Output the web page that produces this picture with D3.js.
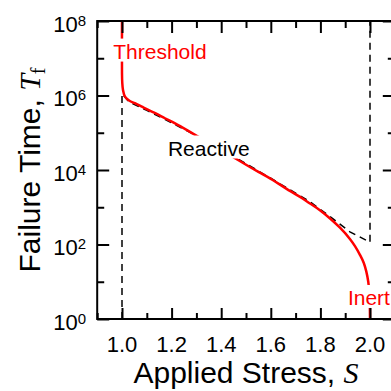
<!DOCTYPE html>
<html>
<head>
<meta charset="utf-8">
<script src="https://cdn.jsdelivr.net/npm/d3@7/dist/d3.min.js"></script>
<style>
  html, body { margin: 0; padding: 0; background: #fff; }
  svg { display: block; }
  text { font-family: "Liberation Sans", Arial, sans-serif; }
</style>
</head>
<body>
<script>
// Applied stress axis (normalised), ticks every 0.1, labels every 0.2
const stressDomain = [0.9, 2.1];
const stressMajorTicks = [1.0, 1.2, 1.4, 1.6, 1.8, 2.0];
const stressMinorTicks = [0.9, 1.1, 1.3, 1.5, 1.7, 1.9, 2.1];
const stressTickLabels = ["1.0", "1.2", "1.4", "1.6", "1.8", "2.0"];

// Failure time axis (log scale)
const timeDomain = [1, 1e8];
const timeMajorExponents = [0, 2, 4, 6, 8];
const timeMinorExponents = [1, 3, 5, 7];

// Full model: failure time vs applied stress (solid red)
const modelStress = [1.000, 1.000, 1.001, 1.004, 1.012, 1.030, 1.052, 1.080, 1.106, 1.140,
                     1.173, 1.214, 1.286, 1.350, 1.400, 1.468, 1.550, 1.600, 1.677, 1.718,
                     1.758, 1.798, 1.839, 1.879, 1.919, 1.940, 1.960, 1.975, 1.985, 1.993,
                     1.998, 2.000];
const modelTime = [1.0e8, 3.98e6, 2.24e6, 1.41e6, 9.3e5, 7.2e5, 6.2e5, 5.0e5, 4.1e5, 3.2e5,
                   2.45e5, 1.78e5, 9.5e4, 5.4e4, 3.5e4, 1.86e4, 8.9e3, 5.8e3, 2.75e3, 1.9e3,
                   1.26e3, 832, 500, 282, 141, 89, 52, 32, 19, 10,
                   4.5, 1];

// Asymptotic limits (dashed black): threshold at S = 1, reactive branch, inert at S = 2
const limitStress = [1.000, 1.000, 1.030, 1.100, 1.200, 1.300, 1.400, 1.500, 1.600, 1.700,
                     1.758, 1.839, 1.919, 2.000, 2.000];
const limitTime = [1, 1.12e6, 6.6e5, 4.0e5, 1.86e5, 8.3e4, 3.6e4, 1.48e4, 6.0e3, 2.4e3,
                   1.41e3, 560, 219, 115, 1e8];

// Regime labels, anchored in data coordinates
const regimeNames = ["Threshold", "Reactive", "Inert"];
const regimeStress = [1.153, 1.35, 1.911];
const regimeTime = [9.8e6, 2.45e4, 2.38];
const regimeColors = ["#ff0000", "#000000", "#ff0000"];
const regimeAnchors = ["middle", "middle", "start"];

const W = 391, H = 391;
const plot = { left: 97.2, right: 394.8, top: 21, bottom: 319 };

const svg = d3.select("body").append("svg")
  .attr("width", W).attr("height", H)
  .attr("viewBox", `0 0 ${W} ${H}`);

const x = d3.scaleLinear().domain(stressDomain).range([plot.left, plot.right]);
const y = d3.scaleLog().domain(timeDomain).range([plot.bottom, plot.top]);

svg.append("clipPath").attr("id", "plot-clip")
  .append("rect")
  .attr("x", plot.left).attr("y", plot.top)
  .attr("width", plot.right - plot.left).attr("height", plot.bottom - plot.top);

const curves = svg.append("g").attr("clip-path", "url(#plot-clip)");

const line = d3.line()
  .x(d => x(d[0]))
  .y(d => y(d[1]));

// dashed limits
curves.append("path")
  .datum(d3.zip(limitStress, limitTime))
  .attr("d", line)
  .attr("fill", "none")
  .attr("stroke", "#000")
  .attr("stroke-width", 1.5)
  .attr("stroke-dasharray", "7,5");

// full model curve
curves.append("path")
  .datum(d3.zip(modelStress, modelTime))
  .attr("d", line.curve(d3.curveCatmullRom.alpha(0.5)))
  .attr("fill", "none")
  .attr("stroke", "#ff0000")
  .attr("stroke-width", 2.5)
  .attr("stroke-linejoin", "round");

// regime labels on white backing boxes
const labels = svg.append("g");
regimeNames.forEach((name, i) => {
  const g = labels.append("g");
  const t = g.append("text")
    .attr("x", x(regimeStress[i]))
    .attr("y", y(regimeTime[i]))
    .attr("text-anchor", regimeAnchors[i])
    .attr("font-size", 21)
    .attr("fill", regimeColors[i])
    .text(name);
  const bb = t.node().getBBox();
  g.insert("rect", "text")
    .attr("x", bb.x - 2).attr("y", bb.y - 1)
    .attr("width", bb.width + 4).attr("height", bb.height)
    .attr("fill", "#fff");
});

// frame
svg.append("rect")
  .attr("x", plot.left).attr("y", plot.top)
  .attr("width", plot.right - plot.left).attr("height", plot.bottom - plot.top)
  .attr("fill", "none").attr("stroke", "#000").attr("stroke-width", 2);

// inward ticks on all four sides
function tickAxis(axis, transform) {
  const g = svg.append("g").attr("transform", transform).call(axis);
  g.select(".domain").remove();
  g.selectAll(".tick line").attr("stroke", "#000").attr("stroke-width", 2);
  g.selectAll(".tick text").remove();
  return g;
}
tickAxis(d3.axisBottom(x).tickValues(stressMajorTicks).tickSize(-11), `translate(0,${plot.bottom})`);
tickAxis(d3.axisBottom(x).tickValues(stressMinorTicks).tickSize(-6), `translate(0,${plot.bottom})`);
tickAxis(d3.axisTop(x).tickValues(stressMajorTicks).tickSize(-12), `translate(0,${plot.top})`);
tickAxis(d3.axisTop(x).tickValues(stressMinorTicks).tickSize(-7), `translate(0,${plot.top})`);
const majorT = timeMajorExponents.map(e => Math.pow(10, e));
const minorT = timeMinorExponents.map(e => Math.pow(10, e));
tickAxis(d3.axisLeft(y).tickValues(majorT).tickSize(-12), `translate(${plot.left},0)`);
tickAxis(d3.axisLeft(y).tickValues(minorT).tickSize(-7), `translate(${plot.left},0)`);
tickAxis(d3.axisRight(y).tickValues(majorT).tickSize(-12), `translate(${plot.right},0)`);
tickAxis(d3.axisRight(y).tickValues(minorT).tickSize(-7), `translate(${plot.right},0)`);

// x tick labels
svg.append("g").selectAll("text")
  .data(stressMajorTicks)
  .join("text")
  .attr("x", d => x(d))
  .attr("y", plot.bottom + 32.5)
  .attr("text-anchor", "middle")
  .attr("font-size", 22)
  .attr("fill", "#000")
  .text((d, i) => stressTickLabels[i]);

// y tick labels as powers of ten
const yl = svg.append("g").selectAll("text")
  .data(timeMajorExponents)
  .join("text")
  .attr("x", plot.left - 11)
  .attr("y", d => y(Math.pow(10, d)) + 10.5)
  .attr("text-anchor", "end")
  .attr("font-size", 22)
  .attr("fill", "#000");
yl.append("tspan").text("10");
yl.append("tspan").attr("font-size", 15).attr("dy", -6).text(d => d);

// axis titles
const xt = svg.append("text")
  .attr("x", (plot.left + plot.right) / 2)
  .attr("y", 383)
  .attr("text-anchor", "middle")
  .attr("font-size", 30)
  .attr("fill", "#000");
xt.append("tspan").text("Applied Stress, ");
xt.append("tspan")
  .attr("font-family", "'Liberation Serif', 'Times New Roman', serif")
  .attr("font-style", "italic")
  .text("S");

const yt = svg.append("text")
  .attr("transform", `translate(40,${(plot.top + plot.bottom) / 2}) rotate(-90)`)
  .attr("text-anchor", "middle")
  .attr("font-size", 30)
  .attr("fill", "#000");
yt.append("tspan").text("Failure Time, ");
yt.append("tspan")
  .attr("font-family", "'Liberation Serif', 'Times New Roman', serif")
  .attr("font-style", "italic")
  .text("T");
yt.append("tspan")
  .attr("font-family", "'Liberation Serif', 'Times New Roman', serif")
  .attr("font-size", 20)
  .attr("dy", 5)
  .text("f");
</script>
</body>
</html>
